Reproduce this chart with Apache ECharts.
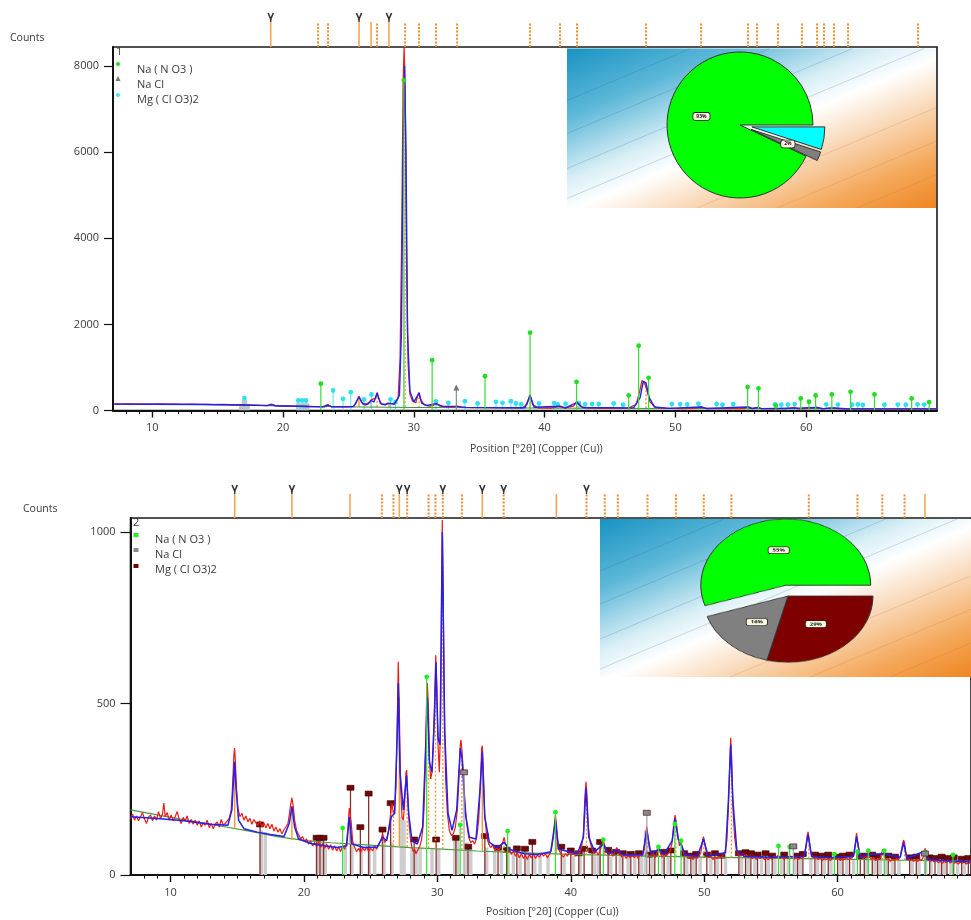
<!DOCTYPE html>
<html>
<head>
<meta charset="utf-8">
<script src="https://cdn.jsdelivr.net/npm/echarts@6/dist/echarts.min.js"></script>
<style>
  html, body { margin: 0; padding: 0; background: #fff; }
  #main { position: absolute; left: 0; top: 0; width: 971px; height: 920px; }
  #pie2 { position: absolute; left: 688px; top: 496px; width: 200px; height: 200px;
          transform: scaleY(0.78); transform-origin: 50% 50%; }
</style>
</head>
<body>
<div id="main"></div>
<div id="pie2"></div>
<script>
// ---------- axis ticks ----------
const xMajorTicks = [10, 20, 30, 40, 50, 60];
const yTicks1 = [0, 2000, 4000, 6000, 8000];
const yTicks2 = [0, 500, 1000];

// ---------- scan 1 ----------
const obs1 = [[7.1,152],[7.6,148],[8.2,153],[8.8,147],[9.4,150],[10,146],[10.6,151],[11.2,145],[11.8,149],[12.4,143],[13,147],[13.6,140],[14.2,144],[14.8,138],[15.4,141],[16,134],[16.6,136],[17.2,128],[17.8,124],[18.4,118],[18.8,116],[19.1,150],[19.4,112],[20,104],[20.6,100],[21.2,96],[21.8,93],[22.4,90],[23,86],[23.4,135],[23.7,88],[24.3,84],[24.9,82],[25.4,95],[25.6,180],[25.8,330],[26.0,190],[26.3,120],[26.6,200],[26.75,250],[26.9,210],[27.05,280],[27.2,420],[27.35,260],[27.55,140],[27.8,130],[28.0,170],[28.2,165],[28.5,150],[28.8,280],[28.95,1200],[29.08,4200],[29.18,7600],[29.26,8440],[29.34,7400],[29.44,3600],[29.56,1100],[29.7,380],[29.9,220],[30.15,180],[30.3,360],[30.4,420],[30.52,260],[30.8,130],[31.2,100],[31.5,120],[31.7,165],[31.95,110],[32.5,80],[33.0,75],[33.3,100],[33.6,72],[34.5,68],[35.5,66],[36.5,62],[37.5,60],[38.3,62],[38.65,140],[38.87,370],[39.1,130],[39.5,62],[40.5,58],[41.1,95],[41.5,58],[42.2,100],[42.45,200],[42.75,90],[43.3,56],[44.5,52],[45.5,50],[46.4,55],[47.0,140],[47.25,420],[47.45,700],[47.6,650],[47.78,520],[48.05,200],[48.5,70],[49.5,48],[50.5,46],[51.5,48],[51.95,85],[52.4,46],[53.5,44],[54.5,42],[55.3,46],[55.52,85],[55.8,44],[56.3,70],[56.6,42],[57.5,40],[58.5,42],[59.1,75],[59.4,40],[60.0,44],[60.8,72],[61.2,40],[62.0,62],[62.5,38],[63.5,40],[64.5,38],[65.5,40],[66.5,37],[67.5,38],[68.5,36],[69.5,37],[70,36]];
const calc1 = [[7.1,148],[10,145],[14,140],[17,128],[18.8,114],[19.1,138],[19.4,110],[22,92],[23.2,88],[23.45,125],[23.7,88],[25.4,92],[25.81,320],[26.1,150],[26.5,150],[26.73,230],[26.95,200],[27.19,400],[27.45,160],[27.8,140],[28.1,165],[28.5,150],[28.9,350],[29.05,1800],[29.18,6000],[29.29,8000],[29.4,6000],[29.52,1800],[29.7,450],[30.0,200],[30.4,400],[30.6,170],[31.0,115],[31.7,160],[32.2,95],[33.3,95],[34,72],[38.5,64],[38.89,350],[39.2,75],[41.18,100],[41.6,60],[42.48,190],[42.9,70],[46.8,62],[47.3,300],[47.55,680],[47.75,640],[48.0,300],[48.4,80],[49.5,50],[51.96,82],[52.4,48],[55.55,82],[55.9,46],[56.24,68],[56.6,44],[59.68,58],[60.83,70],[61.3,44],[62.13,60],[63,40],[70,37]];
const bgLine1 = [[7.1,150],[12,143],[16,132],[20,104],[25,84],[30,70],[35,64],[40,56],[50,46],[60,39],[70,36]];
const nano1 = [[22.89,600],[29.24,7650],[31.40,1145],[35.44,775],[38.89,1785],[42.44,640],[46.43,330],[47.19,1480],[47.95,735],[55.52,520],[56.35,490],[57.68,90],[59.58,255],[60.21,180],[60.72,325],[61.96,350],[63.39,410],[65.22,350],[68.06,255],[69.4,170]];
const nacl1 = [[33.25,490]];
const mgclo1 = [[17.05,265],[21.17,209],[21.47,209],[21.75,209],[23.83,441],[24.59,248],[25.18,403],[26.19,232],[26.76,348],[28.22,232],[28.6,171],[31.7,186],[32.64,155],[33.91,194],[34.88,139],[36.28,178],[36.78,155],[37.42,194],[37.8,139],[38.2,120],[39.57,140],[40.72,150],[41.0,120],[41.6,135],[42.62,150],[43.1,120],[43.63,130],[44.14,125],[45.28,140],[46.0,110],[49.73,130],[50.37,125],[50.9,120],[51.76,135],[53.15,130],[53.6,110],[54.42,125],[57.6,120],[58.1,110],[58.6,115],[59.12,125],[61.53,120],[62.42,115],[63.5,110],[63.95,120],[64.33,105],[65.98,110],[67.0,115],[67.62,110],[68.51,120],[69.02,115]];
const grayCols1 = [[16.75,150],[16.95,250],[17.15,250],[17.35,150],[21.1,170],[21.3,170],[21.5,170],[21.7,170],[21.9,170]];
const peakList1 = [19.06,22.68,23.44,25.81,26.73,27.19,28.10,29.33,30.40,31.70,33.31,38.89,41.18,42.48,47.75,51.96,55.55,56.24,57.84,59.68,60.83,61.36,62.13,63.20,68.55];
const peakKind1 = ['s','d','d','s','s','d','s','d','d','d','d','d','d','d','d','d','d','d','d','d','d','d','d','d','d'];
const peakTop1 = [120,90,120,300,220,380,150,7600,380,150,95,330,100,180,650,85,85,70,60,60,75,55,65,50,45];
const peakBase1 = [116,86,88,84,82,82,80,78,72,70,68,62,58,56,52,48,46,44,40,40,40,40,40,38,36];
const peakTagged1 = [19.06, 25.81, 28.10];
const pieShare1 = { nano: 93, nacl: 2, mgclo: 5 };

// ---------- scan 2 ----------
const obs2 = [[7.0,165],[7.15,178],[7.3,160],[7.45,172],[7.6,158],[7.75,170],[7.9,182],[8.05,163],[8.2,150],[8.35,168],[8.5,175],[8.65,158],[8.8,172],[8.95,160],[9.1,185],[9.25,165],[9.4,178],[9.5,210],[9.6,170],[9.75,182],[9.9,160],[10.05,175],[10.2,158],[10.35,170],[10.5,185],[10.65,162],[10.8,150],[10.95,168],[11.1,158],[11.25,172],[11.4,150],[11.55,162],[11.7,148],[11.85,160],[12.0,145],[12.15,158],[12.3,140],[12.45,152],[12.6,145],[12.75,160],[12.9,138],[13.05,150],[13.2,135],[13.35,148],[13.5,155],[13.65,140],[13.8,162],[13.95,145],[14.1,150],[14.25,158],[14.4,165],[14.55,190],[14.65,260],[14.75,350],[14.8,370],[14.85,340],[14.95,250],[15.05,195],[15.2,170],[15.35,180],[15.5,160],[15.65,172],[15.8,155],[15.95,165],[16.1,148],[16.25,162],[16.4,152],[16.55,145],[16.7,158],[16.85,140],[17.0,152],[17.15,138],[17.3,150],[17.45,135],[17.6,148],[17.75,128],[17.9,140],[18.05,125],[18.2,135],[18.35,120],[18.5,132],[18.65,140],[18.8,150],[18.9,175],[19.0,205],[19.1,225],[19.2,200],[19.3,160],[19.45,130],[19.6,118],[19.75,105],[19.9,112],[20.05,98],[20.2,105],[20.35,90],[20.5,100],[20.65,85],[20.8,95],[20.95,82],[21.1,98],[21.25,80],[21.4,92],[21.55,78],[21.7,90],[21.85,75],[22.0,88],[22.15,72],[22.3,85],[22.45,70],[22.6,82],[22.75,68],[22.9,85],[23.05,75],[23.2,95],[23.3,140],[23.4,195],[23.45,200],[23.55,150],[23.65,100],[23.8,80],[23.95,68],[24.1,78],[24.25,65],[24.4,80],[24.55,70],[24.7,82],[24.85,68],[25.0,78],[25.15,70],[25.3,85],[25.45,75],[25.6,88],[25.75,100],[25.9,120],[26.05,95],[26.2,105],[26.35,130],[26.5,180],[26.6,210],[26.7,180],[26.8,190],[26.9,260],[27.0,450],[27.07,622],[27.15,480],[27.25,250],[27.35,170],[27.45,160],[27.55,210],[27.65,300],[27.7,306],[27.78,230],[27.9,140],[28.0,100],[28.1,80],[28.2,68],[28.3,75],[28.4,62],[28.5,70],[28.6,78],[28.7,85],[28.8,100],[28.9,130],[29.0,190],[29.1,320],[29.2,520],[29.25,560],[29.32,500],[29.42,330],[29.5,280],[29.6,300],[29.7,380],[29.8,520],[29.88,641],[29.95,560],[30.05,380],[30.15,300],[30.25,450],[30.32,800],[30.37,1035],[30.43,850],[30.52,500],[30.62,280],[30.75,180],[30.9,130],[31.05,115],[31.2,120],[31.35,140],[31.5,190],[31.62,280],[31.72,380],[31.77,394],[31.85,360],[31.95,300],[32.05,220],[32.2,150],[32.35,110],[32.5,95],[32.65,100],[32.8,90],[32.95,110],[33.1,160],[33.22,260],[33.32,370],[33.37,377],[33.45,300],[33.55,180],[33.7,110],[33.85,90],[34.0,80],[34.15,88],[34.3,72],[34.45,80],[34.6,70],[34.75,85],[34.9,95],[35.0,110],[35.1,92],[35.25,80],[35.4,72],[35.55,60],[35.7,70],[35.85,55],[36.0,65],[36.15,50],[36.3,62],[36.45,48],[36.6,58],[36.75,45],[36.9,60],[37.05,50],[37.2,62],[37.35,48],[37.5,58],[37.65,52],[37.8,65],[37.95,55],[38.1,62],[38.25,50],[38.4,60],[38.55,75],[38.7,110],[38.8,160],[38.85,175],[38.92,150],[39.0,100],[39.15,70],[39.3,60],[39.45,52],[39.6,62],[39.75,55],[39.9,68],[40.05,58],[40.2,65],[40.35,55],[40.5,70],[40.65,62],[40.8,80],[40.95,120],[41.05,220],[41.14,272],[41.22,230],[41.3,150],[41.45,95],[41.6,75],[41.75,62],[41.9,70],[42.05,58],[42.2,72],[42.35,90],[42.45,100],[42.55,85],[42.7,65],[42.85,58],[43.0,65],[43.15,55],[43.3,68],[43.45,80],[43.55,82],[43.7,60],[43.85,52],[44.0,60],[44.15,48],[44.3,58],[44.45,50],[44.6,62],[44.75,50],[44.9,58],[45.05,48],[45.2,60],[45.35,55],[45.5,75],[45.62,120],[45.7,141],[45.78,115],[45.9,75],[46.05,58],[46.2,62],[46.35,50],[46.5,70],[46.6,85],[46.7,65],[46.85,52],[47.0,60],[47.15,55],[47.3,62],[47.45,70],[47.6,95],[47.72,150],[47.82,175],[47.92,150],[48.05,110],[48.15,85],[48.28,95],[48.4,70],[48.55,55],[48.7,60],[48.85,48],[49.0,55],[49.15,45],[49.3,52],[49.45,48],[49.6,55],[49.75,65],[49.88,100],[49.95,112],[50.05,90],[50.2,60],[50.35,50],[50.5,55],[50.65,45],[50.8,52],[50.95,48],[51.1,55],[51.25,50],[51.4,58],[51.55,65],[51.7,100],[51.82,200],[51.92,330],[51.99,400],[52.06,340],[52.15,200],[52.28,110],[52.4,75],[52.55,60],[52.7,55],[52.85,62],[53.0,52],[53.15,60],[53.3,50],[53.45,56],[53.6,48],[53.75,55],[53.9,45],[54.05,52],[54.2,48],[54.35,55],[54.5,45],[54.65,50],[54.8,44],[54.95,52],[55.1,46],[55.25,55],[55.4,50],[55.55,58],[55.7,48],[55.85,54],[56.0,45],[56.15,52],[56.3,48],[56.45,55],[56.6,50],[56.75,46],[56.9,52],[57.05,45],[57.2,50],[57.35,48],[57.5,55],[57.62,80],[57.72,115],[57.79,126],[57.87,105],[57.97,70],[58.1,55],[58.25,48],[58.4,52],[58.55,45],[58.7,50],[58.85,42],[59.0,48],[59.15,44],[59.3,50],[59.45,42],[59.6,48],[59.75,52],[59.9,45],[60.05,50],[60.2,42],[60.35,48],[60.5,44],[60.65,52],[60.8,45],[60.95,48],[61.1,50],[61.25,65],[61.35,100],[61.42,122],[61.5,100],[61.6,70],[61.75,52],[61.9,48],[62.05,55],[62.2,50],[62.3,68],[62.4,52],[62.55,45],[62.7,50],[62.85,42],[63.0,48],[63.15,45],[63.3,65],[63.4,75],[63.5,55],[63.65,45],[63.8,48],[63.95,40],[64.1,46],[64.25,42],[64.4,48],[64.55,44],[64.7,55],[64.85,85],[64.94,102],[65.02,95],[65.12,65],[65.25,48],[65.4,42],[65.55,45],[65.7,40],[65.85,44],[66.0,40],[66.15,46],[66.3,42],[66.45,55],[66.55,78],[66.65,60],[66.8,45],[66.95,40],[67.1,44],[67.25,38],[67.4,42],[67.55,36],[67.7,40],[67.85,34],[68.0,40],[68.15,36],[68.3,42],[68.45,35],[68.6,40],[68.75,34],[68.9,38],[69.05,32],[69.2,38],[69.35,34],[69.5,38],[69.65,32],[69.8,36],[70.0,33]];
const calc2 = [[7,170],[9,165],[11,158],[13,148],[14.3,145],[14.6,190],[14.75,300],[14.8,330],[14.9,260],[15.1,160],[15.5,135],[16.5,125],[17.5,118],[18.5,112],[18.9,150],[19.1,200],[19.3,140],[19.6,105],[20.5,92],[21.5,85],[22.5,80],[23.2,85],[23.4,170],[23.6,90],[24.5,80],[25.5,82],[25.9,110],[26.2,100],[26.55,170],[26.8,180],[27.0,420],[27.07,560],[27.2,300],[27.45,190],[27.69,290],[27.85,180],[28.1,100],[28.5,90],[28.9,140],[29.15,400],[29.25,520],[29.4,330],[29.6,300],[29.8,480],[29.9,620],[30.05,400],[30.2,380],[30.37,1000],[30.55,420],[30.8,180],[31.1,130],[31.45,190],[31.72,370],[31.85,340],[32.1,180],[32.4,110],[32.9,105],[33.2,250],[33.37,360],[33.55,170],[33.9,95],[34.5,80],[35.0,95],[35.4,75],[36.5,62],[37.5,60],[38.5,68],[38.85,160],[39.1,75],[40.5,62],[40.95,110],[41.14,255],[41.35,110],[41.8,68],[42.45,90],[42.8,62],[43.5,72],[44,58],[45.4,60],[45.7,130],[46.0,62],[46.6,75],[47.0,60],[47.6,100],[47.82,165],[48.05,105],[48.28,88],[48.6,58],[49.5,55],[49.95,105],[50.3,55],[51.6,65],[51.82,220],[51.99,380],[52.15,220],[52.45,70],[53,55],[55,52],[57.5,55],[57.79,118],[58.05,55],[59.5,50],[61.2,55],[61.42,112],[61.7,52],[62.3,60],[63.4,62],[64.7,52],[64.94,95],[65.2,48],[66.55,70],[66.8,45],[68,42],[70,38]];
const bgLine2 = [[7,190],[10,168],[13,148],[16,127],[18,112],[20,101],[22,94],[25,87],[28,80],[30,76],[33,70],[36,65],[40,60],[45,56],[50,52],[55,49],[60,46],[65,43],[70,40]];
const nano2 = [[22.9,134],[29.2,575],[31.71,143],[35.27,125],[38.85,180],[42.44,100],[46.57,79],[47.8,146],[48.27,97],[55.57,82],[56.41,79],[59.76,58],[61.49,65],[62.3,68],[63.5,68],[66.6,64],[68.65,56]];
const nacl2 = [[32.0,298],[45.7,180],[56.68,82],[66.55,61]];
const mgclo2 = [[16.71,146],[20.95,107],[21.2,107],[21.47,107],[23.49,253],[24.23,138],[24.85,236],[25.89,131],[26.5,208],[28.26,102],[29.91,102],[31.39,107],[32.3,81],[33.56,112],[34.55,78],[35.2,72],[35.96,76],[36.57,75],[37.12,95],[39.29,81],[40.0,70],[40.6,62],[41.0,75],[41.6,70],[42.2,95],[42.8,72],[43.4,66],[43.9,62],[44.5,60],[45.1,62],[45.9,58],[46.3,62],[47.0,66],[47.5,70],[48.5,62],[49.0,55],[49.4,60],[50.2,58],[50.8,62],[51.3,55],[52.6,62],[53.1,65],[53.5,62],[54.0,58],[54.6,62],[55.1,55],[56.0,58],[57.0,55],[57.4,60],[58.3,58],[58.8,55],[59.3,58],[60.0,52],[60.4,55],[60.9,58],[61.7,52],[62.0,55],[62.6,58],[63.0,52],[63.8,55],[64.3,52],[65.4,50],[65.9,52],[66.9,50],[67.3,48],[67.8,52],[68.2,48],[68.7,50],[69.3,46],[69.8,48]];
const grayCols2 = [[16.8,130],[17.1,125],[21.0,95],[21.3,95],[21.6,95],[23.1,88],[23.6,88],[24.3,85],[24.9,85],[25.3,85],[26.0,100],[26.6,95],[27.3,170],[27.5,160],[28.1,80],[28.4,75],[28.7,80],[29.6,75],[30.1,75],[31.3,100],[31.5,105],[32.2,95],[32.5,90],[33.7,80],[34.3,72],[34.8,70],[35.3,65],[35.7,62],[36.2,60],[36.8,58],[37.3,58],[37.7,58],[38.3,58],[39.5,56],[40.2,56],[40.7,56],[41.8,55],[42.1,55],[43.0,54],[43.7,54],[44.3,54],[44.8,54],[45.3,54],[45.6,130],[46.1,53],[46.9,53],[47.3,53],[48.7,52],[49.2,52],[49.7,52],[50.5,52],[51.0,51],[51.6,51],[52.8,50],[53.3,50],[53.8,50],[54.3,50],[54.8,49],[55.3,49],[55.8,49],[56.3,49],[56.8,48],[57.2,48],[58.0,48],[58.5,48],[59.0,47],[59.5,47],[60.2,47],[60.7,46],[61.2,46],[62.2,46],[62.8,45],[63.2,45],[63.6,45],[64.1,45],[64.6,44],[65.6,44],[66.1,44],[66.6,43],[67.0,43],[67.6,42],[68.0,42],[68.5,42],[69.0,41],[69.5,41]];
const peakList2 = [14.81,19.10,23.45,25.84,26.71,27.15,27.74,29.34,29.86,30.41,31.84,33.37,34.97,38.92,41.18,42.55,43.53,45.75,47.88,49.97,52.04,57.84,61.49,63.35,65.02,66.55];
const peakKind2 = ['s','s','s','d','d','s','d','d','d','d','d','s','d','s','d','d','d','d','d','d','d','d','d','d','d','s'];
const peakTop2 = [300,190,170,100,180,520,270,480,560,900,340,330,95,150,230,85,70,120,150,95,340,105,105,65,88,68];
const peakBase2 = [135,102,90,86,84,83,82,78,77,76,73,70,67,62,59,58,57,56,54,52,51,48,45,44,43,42];
const peakTagged2 = [14.81, 19.10, 27.15, 27.74, 30.41, 33.37, 34.97, 41.18];
const pieShare2 = { nano: 55, nacl: 16, mgclo: 29 };

// ---------- drawing ----------
const FONT = '"Open Sans", "DejaVu Sans", sans-serif';
const TXT = '#3a3a3a';

function stickItem(color, marker, markColor, lw) {
  return function (params, api) {
    const x = api.value(0), h = api.value(1);
    const b = api.coord([x, 0]), t = api.coord([x, h]);
    const kids = [{ type: 'line', shape: { x1: b[0], y1: b[1], x2: t[0], y2: t[1] },
                    style: { stroke: color, lineWidth: lw } }];
    if (marker === 'circle') {
      kids.push({ type: 'circle', shape: { cx: t[0], cy: t[1] - 1, r: 2.4 }, style: { fill: markColor } });
    } else if (marker === 'rect') {
      kids.push({ type: 'rect', shape: { x: t[0] - 3.5, y: t[1] - 3, width: 7, height: 5 },
                  style: { fill: markColor, stroke: '#3a0000', lineWidth: 0.6 } });
    } else if (marker === 'tri') {
      kids.push({ type: 'polygon', shape: { points: [[t[0], t[1] - 5], [t[0] - 3, t[1] + 1], [t[0] + 3, t[1] + 1]] },
                  style: { fill: markColor } });
    }
    return { type: 'group', children: kids };
  };
}

function columnItem(color, w) {
  return function (params, api) {
    const x = api.value(0), h = api.value(1);
    const b = api.coord([x, 0]), t = api.coord([x, h]);
    return { type: 'rect', shape: { x: b[0] - w / 2, y: t[1], width: w, height: b[1] - t[1] },
             style: { fill: color } };
  };
}

// component peak markers: a vertical from the background level up into the peak
function dashStickItem(kinds) {
  return function (params, api) {
    const x = api.value(0), h = api.value(1), base = api.value(2);
    const b = api.coord([x, base]), t = api.coord([x, h]);
    const dotted = kinds[params.dataIndex] === 'd';
    return { type: 'line', shape: { x1: b[0], y1: b[1], x2: t[0], y2: t[1] },
             style: { stroke: '#f29a3a', lineWidth: 1.4, lineDash: dotted ? [2, 2] : null } };
  };
}

function stripItem(kinds, tagged) {
  return function (params, api) {
    const x = api.value(0);
    const b = api.coord([x, 0]), t = api.coord([x, 1]);
    const dotted = kinds[params.dataIndex] === 'd';
    const kids = [{ type: 'line', shape: { x1: b[0], y1: b[1], x2: t[0], y2: t[1] },
                    style: { stroke: dotted ? '#f08c2a' : '#f5a650', lineWidth: dotted ? 2 : 1.6,
                             lineDash: dotted ? [2, 1.6] : null } }];
    if (tagged.indexOf(x) >= 0) {
      kids.push({ type: 'polyline', shape: { points: [[t[0] - 2.6, t[1] - 9], [t[0], t[1] - 3], [t[0] + 2.6, t[1] - 9]] },
                  style: { stroke: '#333', lineWidth: 1.6, fill: null } });
      kids.push({ type: 'line', shape: { x1: t[0], y1: t[1] - 3, x2: t[0], y2: t[1] },
                  style: { stroke: '#333', lineWidth: 1.4 } });
    }
    return { type: 'group', children: kids };
  };
}

function custom(name, data, xi, yi, renderItem, z, clip) {
  return { type: 'custom', name, data, xAxisIndex: xi, yAxisIndex: yi, renderItem,
           encode: { x: 0, y: 1 }, clip: clip !== false, silent: true, z };
}
function profile(name, data, xi, yi, color, width, z) {
  return { type: 'line', name, data, xAxisIndex: xi, yAxisIndex: yi, showSymbol: false, symbol: 'none',
           lineStyle: { color, width }, itemStyle: { color }, silent: true, z, clip: true };
}

function plainNumber(v) { return String(v); }

function mainX(grid) {
  return { type: 'value', gridIndex: grid, min: 7, max: 70,
           axisLine: { show: true, onZero: false, lineStyle: { color: '#111', width: 2 } },
           axisTick: { show: true, customValues: xMajorTicks, length: 7, lineStyle: { color: '#111', width: 1.4 } },
           axisLabel: { customValues: xMajorTicks, formatter: plainNumber, color: TXT, fontSize: 11, margin: 12, fontFamily: FONT },
           splitLine: { show: false } };
}
function minorX(grid) {
  const minors = [];
  for (let v = 8; v < 70; v++) if (v % 10 !== 0) minors.push(v);
  return { type: 'value', gridIndex: grid, min: 7, max: 70, position: 'bottom',
           axisLine: { show: false }, axisLabel: { show: false }, splitLine: { show: false },
           axisTick: { show: true, customValues: minors, length: 3.5, lineStyle: { color: '#111', width: 1 } } };
}
function mainY(grid, max, ticks, margin, tickLen) {
  return { type: 'value', gridIndex: grid, min: 0, max,
           axisLine: { show: true, onZero: false, lineStyle: { color: '#111', width: 2 } },
           axisTick: { show: true, customValues: ticks, length: tickLen, lineStyle: { color: '#111', width: 1.2 } },
           axisLabel: { customValues: ticks, formatter: plainNumber, color: TXT, fontSize: 11, margin, fontFamily: FONT },
           splitLine: { show: false } };
}
function hiddenX(grid) { return { type: 'value', gridIndex: grid, min: 7, max: 70, show: false }; }
function hiddenY(grid) { return { type: 'value', gridIndex: grid, min: 0, max: 1, show: false }; }

const pieLabel = { show: true, position: 'inside', formatter: '{c}%', fontSize: 5, fontWeight: 'bold',
                   color: '#111', backgroundColor: '#fff8e2', borderColor: '#222', borderWidth: 0.8,
                   borderRadius: 2, padding: [1, 3], fontFamily: FONT };

function text(x, y, str, size, extra) {
  return Object.assign({ type: 'text', x, y, z: 20,
    style: { text: str, fill: TXT, font: (size || 11) + 'px ' + FONT, textVerticalAlign: 'middle' } }, extra || {});
}
function dot(x, y, color) { return { type: 'circle', shape: { cx: x, cy: y, r: 2 }, style: { fill: color }, z: 20 }; }
function square(x, y, color) { return { type: 'rect', shape: { x: x - 2.5, y: y - 2, width: 5, height: 4 }, style: { fill: color }, z: 20 }; }
function tri(x, y, color) { return { type: 'polygon', shape: { points: [[x, y - 3], [x - 2.5, y + 2], [x + 2.5, y + 2]] }, style: { fill: color }, z: 20 }; }

function inset(x, y, w, h) {
  const g = {
    type: 'rect', shape: { x, y, width: w, height: h }, z: 1,
    style: { fill: new echarts.graphic.LinearGradient(x, y, x + 112, y + 268, [
      { offset: 0, color: '#1893c2' }, { offset: 0.22, color: '#5db8d8' }, { offset: 0.42, color: '#d9eff6' },
      { offset: 0.52, color: '#ffffff' }, { offset: 0.66, color: '#f9d9b9' }, { offset: 0.84, color: '#f4a85a' },
      { offset: 1, color: '#ef8420' }], true) }
  };
  // faint diagonal streaks across the backdrop
  const streaks = [];
  const blue = 'rgba(40,90,170,0.28)', orange = 'rgba(215,110,30,0.28)';
  [[0, 52, blue], [0, 85, blue], [0, 120, blue], [0, 150, blue]].forEach(function (s) {
    const x0 = x + s[0], y0 = y + s[1];
    streaks.push({ type: 'line', z: 1, shape: { x1: x0, y1: y0, x2: x0 + s[1] / 0.42, y2: y }, style: { stroke: s[2], lineWidth: 0.8 } });
  });
  [[130, orange], [210, orange], [290, orange]].forEach(function (s) {
    const x0 = x + s[0], y0 = y + h, x1 = Math.min(x + w, x0 + 240);
    streaks.push({ type: 'line', z: 1, shape: { x1: x0, y1: y0, x2: x1, y2: y0 - (x1 - x0) * 0.42 }, style: { stroke: s[1], lineWidth: 0.8 } });
  });
  return [g].concat(streaks);
}

const chart = echarts.init(document.getElementById('main'), null, { renderer: 'canvas' });

const option = {
  animation: false,
  textStyle: { fontFamily: FONT },
  grid: [
    { left: 113, top: 47, width: 824, height: 363.5, show: true, borderColor: '#1a1a1a', borderWidth: 1.6, backgroundColor: 'transparent' },
    { left: 130.5, top: 518, width: 851, height: 357, show: true, borderColor: '#1a1a1a', borderWidth: 1.6, backgroundColor: 'transparent' },
    { left: 113, top: 22, width: 824, height: 25 },
    { left: 130.5, top: 494, width: 851, height: 24 }
  ],
  xAxis: [mainX(0), mainX(1), minorX(0), minorX(1), hiddenX(2), hiddenX(3)],
  yAxis: [mainY(0, 8441, yTicks1, 14, 9), mainY(1, 1041, yTicks2, 15, 10), hiddenY(2), hiddenY(3)],
  series: [
    // scan 1
    custom('cols1', grayCols1, 0, 0, columnItem('#c4c4c4', 3), 2),
    custom('comp1', peakList1.map(function (p, i) { return [p, peakTop1[i], peakBase1[i]]; }), 0, 0, dashStickItem(peakKind1), 3),
    custom('Mg ( Cl O3)2', mgclo1, 0, 0, stickItem('#5fe8f0', 'circle', '#2fe0ee', 1.1), 4),
    profile('bg1', bgLine1, 0, 0, '#3f8f3f', 1, 5),
    profile('obs1', obs1, 0, 0, '#e8201c', 1.3, 6),
    profile('calc1', calc1, 0, 0, '#2222ee', 1.4, 7),
    custom('Na ( N O3 )', nano1, 0, 0, stickItem('#33dd33', 'circle', '#22dd22', 1.2), 8),
    custom('Na Cl', nacl1, 0, 0, stickItem('#888888', 'tri', '#777777', 1.2), 8),
    // scan 2
    custom('cols2', grayCols2, 1, 1, columnItem('#cdcdcd', 3.5), 2),
    custom('Mg ( Cl O3)2 ', mgclo2, 1, 1, stickItem('#8a2f2f', 'rect', '#700808', 1.3), 3),
    profile('bg2', bgLine2, 1, 1, '#4e9b44', 1.2, 4),
    custom('comp2', peakList2.map(function (p, i) { return [p, peakTop2[i], peakBase2[i]]; }), 1, 1, dashStickItem(peakKind2), 5),
    profile('obs2', obs2, 1, 1, '#f01a14', 1.2, 6),
    profile('calc2', calc2, 1, 1, '#2020f0', 1.5, 7),
    custom('Na ( N O3 ) ', nano2, 1, 1, stickItem('#33dd33', 'circle', '#22ee22', 1.2), 8),
    custom('Na Cl ', nacl2, 1, 1, stickItem('#a0a0a0', 'rect', '#8a8a8a', 1.2), 8),
    // peak list strips above each scan
    custom('peaks1', peakList1.map(function (p) { return [p, 1]; }), 4, 2, stripItem(peakKind1, peakTagged1), 3, false),
    custom('peaks2', peakList2.map(function (p) { return [p, 1]; }), 5, 3, stripItem(peakKind2, peakTagged2), 3, false),
    // phase fractions, scan 1
    {
      type: 'pie', center: [740, 125], radius: 73, startAngle: 0, clockwise: true,
      selectedMode: 'multiple', selectedOffset: 12, avoidLabelOverlap: false, silent: true, z: 10,
      itemStyle: { borderColor: '#333', borderWidth: 1 },
      label: pieLabel, labelLine: { show: false }, emphasis: { disabled: true },
      data: [
        { name: 'Mg ( Cl O3)2', value: pieShare1.mgclo, selected: true, itemStyle: { color: '#00ffff' }, label: { show: false } },
        { name: 'Na Cl', value: pieShare1.nacl, selected: true, itemStyle: { color: '#7f7f7f' } },
        { name: 'Na ( N O3 )', value: pieShare1.nano, itemStyle: { color: '#00ff00' } }
      ]
    }
  ],
  graphic: [].concat(
    inset(567, 48.5, 369, 159.5),
    inset(600, 519, 371, 158),
    [
      text(10, 38, 'Counts', 10.5),
      text(23, 509, 'Counts', 10.5),
      text(116, 52, '1', 11),
      text(133, 523, '2', 11),
      dot(118, 64, '#22dd22'), text(137, 70, 'Na ( N O3 )', 11),
      tri(118, 79, '#777'), text(137, 85, 'Na Cl', 11),
      dot(118, 95, '#3fe6f0'), text(137, 100, 'Mg ( Cl O3)2', 11),
      square(136, 535, '#22ee22'), text(155, 540, 'Na ( N O3 )', 11),
      square(136, 550, '#8a8a8a'), text(155, 555, 'Na Cl', 11),
      square(136, 566, '#700808'), text(155, 570, 'Mg ( Cl O3)2', 11),
      text(470, 449, 'Position [°2θ] (Copper (Cu))', 10.5),
      text(486, 912, 'Position [°2θ] (Copper (Cu))', 10.5)
    ]
  )
};
chart.setOption(option);

// phase fractions, scan 2 (drawn in its own vertically squashed panel)
const pie2 = echarts.init(document.getElementById('pie2'), null, { renderer: 'canvas' });
pie2.setOption({
  animation: false,
  series: [{
    type: 'pie', center: ['50%', '50%'], radius: 85, startAngle: 0, clockwise: true,
    selectedMode: 'multiple', selectedOffset: 14, avoidLabelOverlap: false, silent: true,
    itemStyle: { borderColor: '#333', borderWidth: 1 },
    label: Object.assign({}, pieLabel, { fontSize: 6, padding: [1, 4] }), labelLine: { show: false },
    emphasis: { disabled: true },
    data: [
      { name: 'Mg ( Cl O3)2', value: pieShare2.mgclo, itemStyle: { color: '#7f0000' } },
      { name: 'Na Cl', value: pieShare2.nacl, itemStyle: { color: '#808080' } },
      { name: 'Na ( N O3 )', value: pieShare2.nano, selected: true, itemStyle: { color: '#00ff00' } }
    ]
  }]
});
</script>
</body>
</html>
